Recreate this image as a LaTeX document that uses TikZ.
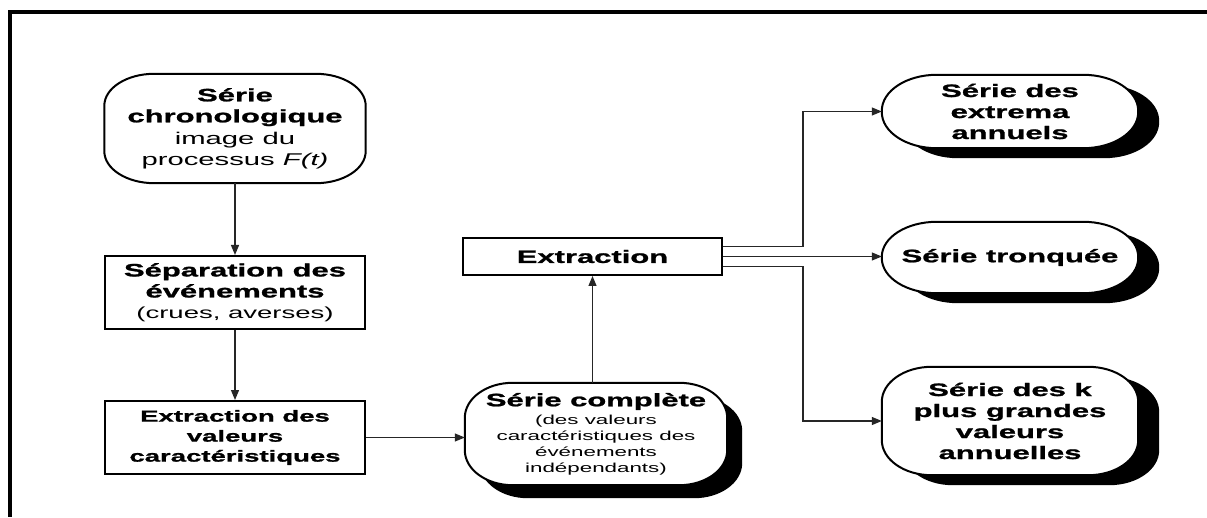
\documentclass[tikz,border=0pt]{standalone}
\usepackage{fontspec}
\setmainfont{Liberation Sans}[FakeStretch=1.72, BoldFeatures={FakeBold=1.2}]
\usetikzlibrary{arrows.meta,calc,backgrounds}
% rounded path with elliptical corners: #1 node, #2 rx, #3 ry, #4 dx, #5 dy (down)
\newcommand\rpath[5]{($(#1.north west)+(#2+#4,-#5)$) -- ($(#1.north east)+(-#2+#4,-#5)$)
  arc[start angle=90,end angle=0,x radius=#2,y radius=#3]
  -- ($(#1.south east)+(#4,#3-#5)$)
  arc[start angle=0,end angle=-90,x radius=#2,y radius=#3]
  -- ($(#1.south west)+(#2+#4,-#5)$)
  arc[start angle=270,end angle=180,x radius=#2,y radius=#3]
  -- ($(#1.north west)+(#4,-#3-#5)$)
  arc[start angle=180,end angle=90,x radius=#2,y radius=#3] -- cycle}
\tikzset{
  x=1pt, y=1pt,
  txt/.style={align=center, inner sep=0pt, font=\fontsize{18}{21}\selectfont\bfseries},
  sqbox/.style={txt, draw=black, line width=2pt, fill=white},
  rndbox/.style={txt, draw=none},
  conn/.style={line width=1.2pt, draw=black!85},
  arr/.style={conn, -{Triangle[length=10pt,width=8pt]}},
}
\begin{document}
\begin{tikzpicture}
\useasboundingbox (0,0) rectangle (1207,517);
% frame (top and left)
\draw[line width=4pt] (1207,505) -- (10,505) -- (10,0);

% nodes
\node[rndbox, minimum width=261, minimum height=109] (n1) at (235,388.5)
  {Série\\chronologique\\[1pt]{\mdseries\fontsize{17}{20}\selectfont image du}\\{\mdseries\fontsize{17}{20}\selectfont processus \textit{F(t)}}};
\node[sqbox, minimum width=260, minimum height=73] (n2) at (235,224.5)
  {Séparation des\\événements\\{\mdseries\fontsize{16}{19}\selectfont (crues, averses)}};
\node[sqbox, minimum width=260, minimum height=73, font=\fontsize{16}{20}\selectfont\bfseries] (n3) at (235,79.5)
  {Extraction des\\valeurs\\caractéristiques};
\node[rndbox, minimum width=262, minimum height=102] (n4) at (596,83)
  {Série complète\\[-3pt]{\mdseries\fontsize{13}{15}\selectfont (des valeurs}\\[-5pt]{\mdseries\fontsize{13}{15}\selectfont caractéristiques des}\\[-5pt]{\mdseries\fontsize{13}{15}\selectfont événements}\\[-5pt]{\mdseries\fontsize{13}{15}\selectfont indépendants)}};
\node[sqbox, minimum width=259, minimum height=37] (n5) at (592.5,260.5) {Extraction};
\node[rndbox, minimum width=256, minimum height=73] (n6) at (1010,405.5)
  {Série des\\extrema\\annuels};
\node[rndbox, minimum width=256, minimum height=71] (n7) at (1010,259.5)
  {Série tronquée};
\node[rndbox, minimum width=256, minimum height=108] (n8) at (1010,96)
  {Série des k\\plus grandes\\valeurs\\annuelles};

% rounded shapes with shadows
\begin{pgfonlayer}{background}
  \fill[white] (0,0) rectangle (1207,517);
  \fill[black] \rpath{n4}{48}{35}{15}{13};
  \fill[black] \rpath{n6}{55}{36}{21}{10};
  \fill[black] \rpath{n7}{55}{35}{21}{10};
  \fill[black] \rpath{n8}{50}{35}{21}{10};
  \filldraw[fill=white, draw=black, line width=2pt] \rpath{n1}{50}{32}{0}{0};
  \filldraw[fill=white, draw=black, line width=2pt] \rpath{n4}{48}{35}{0}{0};
  \filldraw[fill=white, draw=black, line width=2pt] \rpath{n6}{55}{36}{0}{0};
  \filldraw[fill=white, draw=black, line width=2pt] \rpath{n7}{55}{35}{0}{0};
  \filldraw[fill=white, draw=black, line width=2pt] \rpath{n8}{50}{35}{0}{0};
\end{pgfonlayer}

% connectors
\draw[arr] (n1.south) -- (n2.north);
\draw[arr] (n2.south) -- (n3.north);
\draw[arr] (n3.east) -- (n3.east -| n4.west);
\draw[arr] (n5.south |- n4.north) -- (n5.south);
\draw[arr] ([yshift=10pt]n5.east) -- ++(80,0) |- (n6.west);
\draw[arr] (n5.east) -- (n5.east -| n7.west);
\draw[arr] ([yshift=-10pt]n5.east) -- ++(80,0) |- (n8.west);
\end{tikzpicture}
\end{document}
